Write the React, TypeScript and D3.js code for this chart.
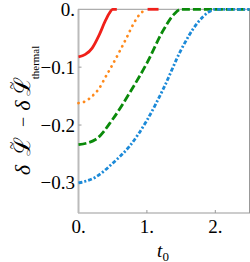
import { useEffect, useRef } from "react";
import * as d3 from "d3";

type Pt = { t: number; v: number };

// values
const redT = [0, 0.1, 0.2, 0.3, 0.4, 0.45, 0.5, 0.56];
const redV = [-0.082, -0.078, -0.067, -0.045, -0.018, -0.007, 0, 0];
const redTailT = [1.01, 1.17];
const redTailV = [0, 0];
const orangeT = [0, 0.1, 0.2, 0.3, 0.4, 0.5, 0.6, 0.7, 0.8, 0.9, 1.0];
const orangeV = [-0.162, -0.159, -0.15, -0.137, -0.116, -0.095, -0.073, -0.05, -0.026, -0.008, 0];
const greenT = [0, 0.25, 0.5, 0.75, 1.0, 1.25, 1.4, 1.5, 2.5];
const greenV = [-0.234, -0.225, -0.19, -0.144, -0.093, -0.034, -0.008, 0, 0];
const blueT = [0, 0.25, 0.5, 0.75, 1.0, 1.25, 1.5, 1.75, 1.9, 2.0, 2.5];
const blueV = [-0.3, -0.29, -0.266, -0.236, -0.192, -0.135, -0.07, -0.022, -0.005, 0, 0];

const xTicks = [0, 1, 2];
const xTickLabels = ["0.", "1.", "2."];
const yTicks = [0, -0.1, -0.2, -0.3];
const yTickLabels = ["0.", "\u22120.1", "\u22120.2", "\u22120.3"];

const zip = (ts: number[], vs: number[]): Pt[] => ts.map((t, i) => ({ t, v: vs[i] }));

export default function App() {
  const svgRef = useRef<SVGSVGElement>(null);

  useEffect(() => {
    if (!svgRef.current) return;
    const svg = d3.select(svgRef.current);
    svg.selectAll("*").remove();

    const x = d3.scaleLinear().domain([0, 2.5]).range([78.5, 249.5]);
    const y = d3.scaleLinear().domain([0, -0.352]).range([9.3, 213]);
    const font = "Liberation Serif, Times New Roman, serif";

    const line = d3.line<Pt>()
      .x(d => x(d.t))
      .y(d => y(d.v))
      .curve(d3.curveMonotoneX);

    // frame
    const frame = svg.append("g").attr("fill", "none");
    frame.append("rect")
      .attr("x", x(0)).attr("y", y(0))
      .attr("width", x(2.5) - x(0)).attr("height", y(-0.352) - y(0))
      .attr("stroke", "#999").attr("stroke-width", 1);
    frame.append("line")
      .attr("x1", x(0)).attr("x2", x(0))
      .attr("y1", y(0)).attr("y2", y(-0.352))
      .attr("stroke", "#bbb").attr("stroke-width", 2);

    // ticks
    xTicks.forEach((t, i) => {
      if (t > 0) {
        svg.append("line")
          .attr("x1", x(t)).attr("x2", x(t))
          .attr("y1", y(-0.352)).attr("y2", y(-0.352) - 3)
          .attr("stroke", "#999");
      }
      svg.append("text")
        .attr("x", x(t)).attr("y", 233)
        .attr("text-anchor", "middle")
        .style("font-family", font).style("font-size", "19px")
        .text(xTickLabels[i]);
    });
    yTicks.forEach((v, i) => {
      if (v < 0) {
        svg.append("line")
          .attr("x1", x(0)).attr("x2", x(0) + 3)
          .attr("y1", y(v)).attr("y2", y(v))
          .attr("stroke", "#999");
      }
      svg.append("text")
        .attr("x", 75).attr("y", y(v) + 6.5)
        .attr("text-anchor", "end")
        .style("font-family", font).style("font-size", "19px")
        .text(yTickLabels[i]);
    });

    // curves
    const series = [
      { data: zip(redT, redV), color: "#f0201a", dash: null, cap: "butt" },
      { data: zip(redTailT, redTailV), color: "#f0201a", dash: null, cap: "butt" },
      { data: zip(orangeT, orangeV), color: "#ff8a1c", dash: "0.1,5.6", cap: "round" },
      { data: zip(greenT, greenV), color: "#0a8a0a", dash: "8,3", cap: "butt" },
      { data: zip(blueT, blueV), color: "#1c8ad8", dash: "4,2,2,2", cap: "butt" },
    ];
    series.forEach(s => {
      svg.append("path")
        .datum(s.data)
        .attr("fill", "none")
        .attr("stroke", s.color)
        .attr("stroke-width", 2.8)
        .attr("stroke-linecap", s.cap)
        .attr("stroke-dasharray", s.dash)
        .attr("d", line);
    });

    // x label
    const xl = svg.append("text")
      .attr("x", 163).attr("y", 256.5)
      .attr("text-anchor", "middle")
      .style("font-family", font).style("font-size", "19px");
    xl.append("tspan").style("font-style", "italic").text("t");
    xl.append("tspan").style("font-size", "13px").attr("dy", 4).text("0");

    // y label, rotated; each piece centred in its slot, tilde over each script L
    const yl = svg.append("g").attr("transform", "translate(30,181) rotate(-90)");
    const pieces = [
      { s: "\u03b4", a: 0, b: 22, size: 22, dy: 0, italic: true, tilde: false },
      { s: "\u2112", a: 22, b: 47, size: 23, dy: 0, italic: false, tilde: true },
      { s: "\u2212", a: 52, b: 66, size: 18, dy: -1, italic: false, tilde: false },
      { s: "\u03b4", a: 68, b: 83, size: 22, dy: 0, italic: true, tilde: false },
      { s: "\u2112", a: 83, b: 106, size: 23, dy: 0, italic: false, tilde: true },
      { s: "thermal", a: 106, b: 131, size: 11, dy: 9, italic: false, tilde: false },
    ];
    pieces.forEach(p => {
      const c = (p.a + p.b) / 2;
      yl.append("text")
        .attr("x", c).attr("y", p.dy)
        .attr("text-anchor", "middle")
        .style("font-family", font).style("font-size", `${p.size}px`)
        .style("font-style", p.italic ? "italic" : "normal")
        .text(p.s);
      if (p.tilde) {
        yl.append("text")
          .attr("x", c + 1).attr("y", -13)
          .attr("text-anchor", "middle")
          .style("font-family", font).style("font-size", "14px")
          .text("~");
      }
    });
  }, []);

  return (
    <svg
      ref={svgRef}
      width={250}
      height={262}
      style={{ position: "absolute", left: 0, top: 0, background: "#fff" }}
    />
  );
}
